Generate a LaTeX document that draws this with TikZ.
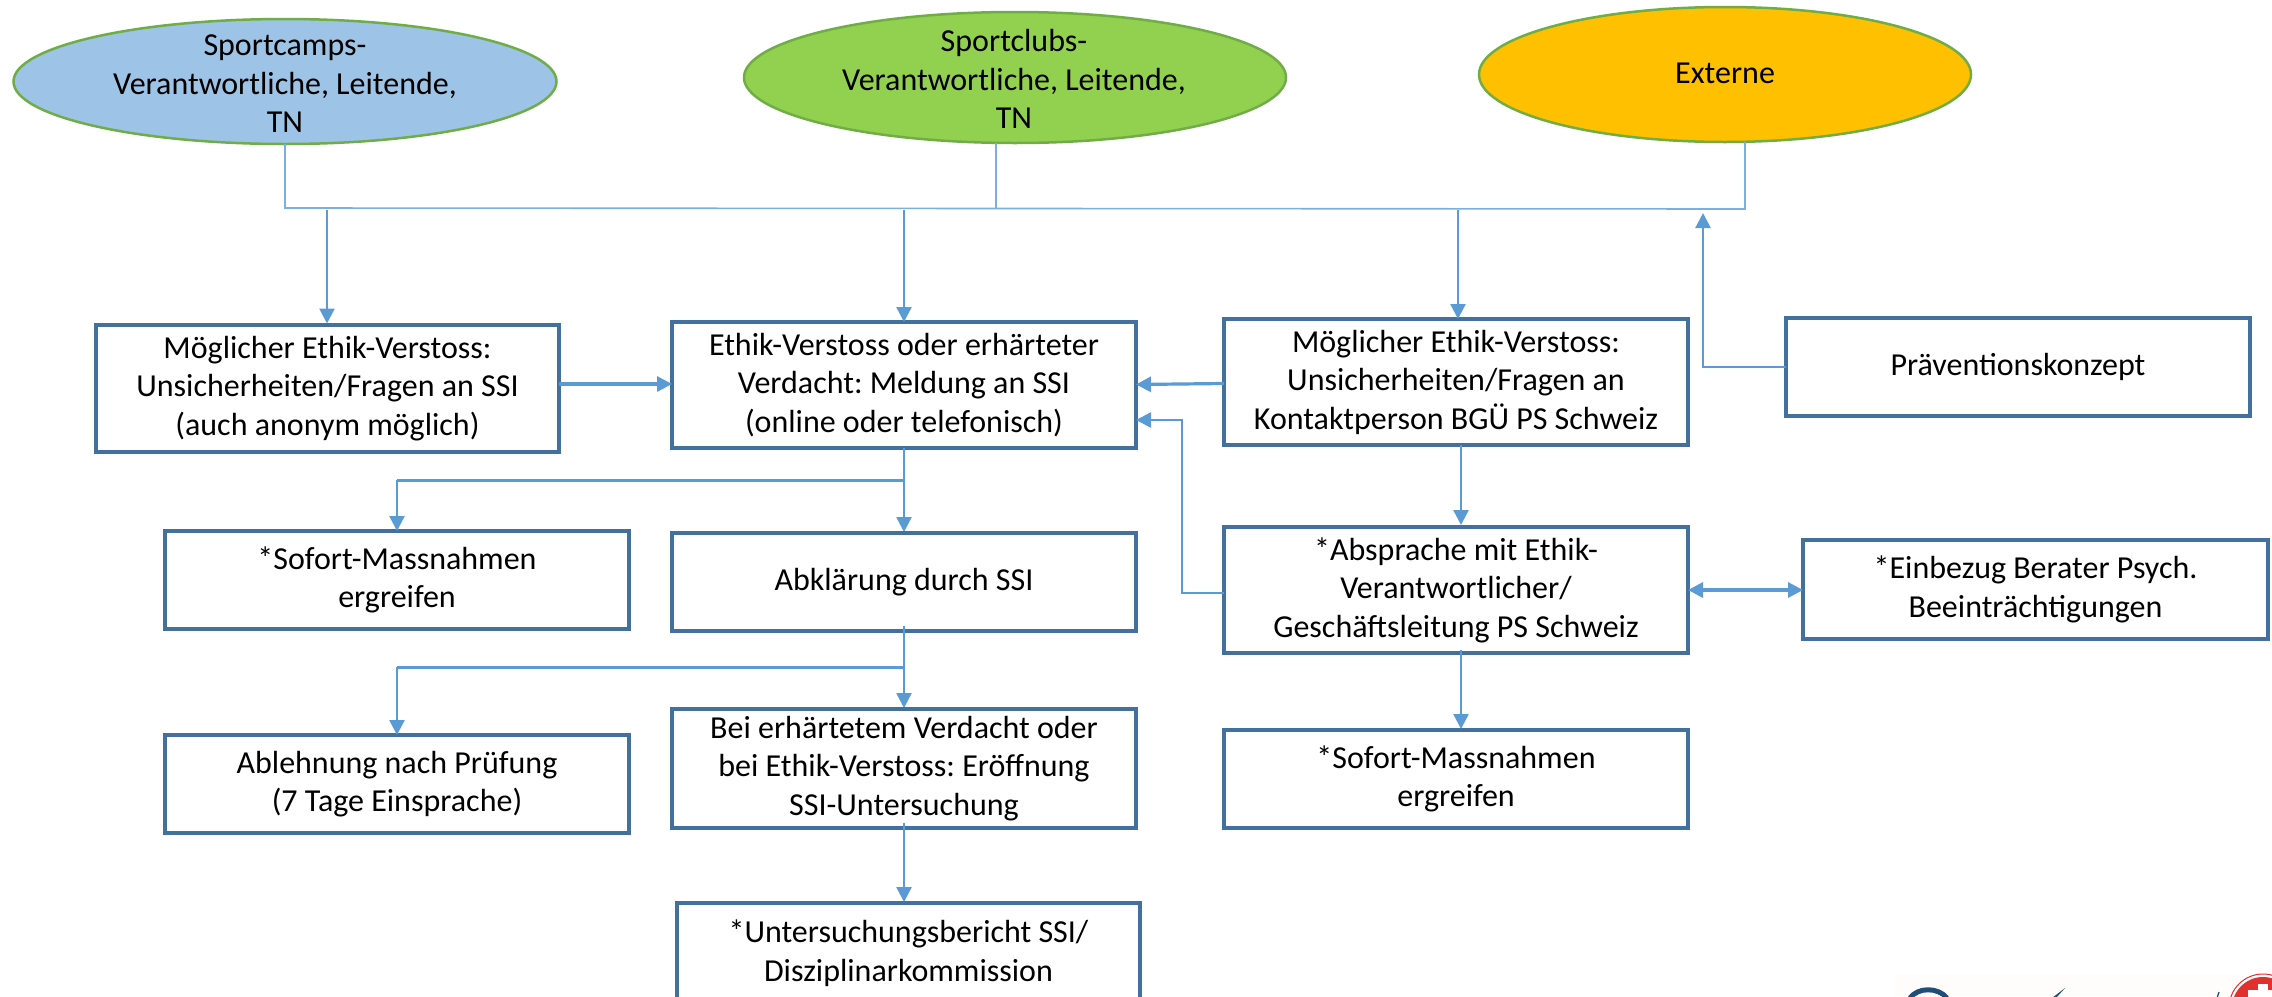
\documentclass[tikz,border=0pt]{standalone}
\usepackage{fontspec}
\setmainfont{Carlito}
\usetikzlibrary{arrows.meta,shapes.geometric,calc}
\definecolor{linkblue}{HTML}{5B9BD5}
\definecolor{boxedge}{HTML}{41719C}
\definecolor{elledge}{HTML}{70AD47}
\definecolor{campfill}{HTML}{9DC3E6}
\definecolor{clubfill}{HTML}{92D050}
\definecolor{extfill}{HTML}{FFC000}
\definecolor{logoblue}{HTML}{1F4E79}
\definecolor{logored}{HTML}{E0312E}
\definecolor{logocream}{HTML}{FFFDFB}
\frenchspacing
\tikzset{
  txt/.style={font=\fontsize{32}{38.5}\selectfont,align=center,text=black,inner sep=0pt,outer sep=0pt},
  bx/.style={txt,draw=boxedge,line width=3.2pt,fill=white,rectangle},
  ell/.style={txt,draw=elledge,line width=2.5pt,ellipse},
  thinl/.style={draw=linkblue!80!white,line width=1.6pt},
  arr/.style={draw=linkblue,line width=2.4pt,-{Triangle[length=15pt,width=15pt]}},
  arrw/.style={draw=linkblue,line width=3.2pt,-{Triangle[length=15pt,width=15pt]}},
  branch/.style={draw=linkblue,line width=3pt},
}
\newcommand{\bxnode}[7]{\node[bx,minimum width=#3 pt,minimum height=#4 pt] (#1) at (#5,#6) {#7};}
\begin{document}
\begin{tikzpicture}[x=1pt,y=-1pt]
\useasboundingbox (0,0) rectangle (2272,996);
\fill[white] (0,0) rectangle (2272,996);
% ellipses
\node[ell,fill=campfill,minimum width=543pt,minimum height=125pt] (camp) at (285,81.5) {};
\node[txt] (camptxt) at (285,84) {Sportcamps-\\Verantwortliche, Leitende,\\TN};
\node[ell,fill=clubfill,minimum width=542pt,minimum height=131pt] (club) at (1015,77.5) {};
\node[txt] (clubtxt) at (1014,79) {Sportclubs-\\Verantwortliche, Leitende,\\TN};
\node[ell,fill=extfill,minimum width=492pt,minimum height=135pt] (ext) at (1725,74.5) {};
\node[txt] (exttxt) at (1725,73) {Externe};
% boxes
\bxnode{pmain}{x}{463}{127}{327.5}{388.5}{Möglicher Ethik-Verstoss:\\Unsicherheiten/Fragen an SSI\\(auch anonym möglich)}
\bxnode{meld}{x}{464}{126}{904}{385}{Ethik-Verstoss oder erhärteter\\Verdacht: Meldung an SSI\\(online oder telefonisch)}
\bxnode{kontakt}{x}{464}{126}{1456}{382}{Möglicher Ethik-Verstoss:\\Unsicherheiten/Fragen an\\Kontaktperson BGÜ PS Schweiz}
\bxnode{prae}{x}{464}{98}{2018}{367}{Präventionskonzept}
\bxnode{soforta}{x}{464}{98}{397}{580}{*Sofort-Massnahmen\\ergreifen}
\bxnode{abkl}{x}{464}{98}{904}{582}{Abklärung durch SSI}
\bxnode{abspr}{x}{464}{126}{1456}{590}{*Absprache mit Ethik-\\Verantwortlicher/\\Geschäftsleitung PS Schweiz}
\bxnode{einb}{x}{465}{99}{2035.5}{589.5}{*Einbezug Berater Psych.\\Beeinträchtigungen}
\bxnode{ablehn}{x}{464}{98}{397}{784}{Ablehnung nach Prüfung\\(7 Tage Einsprache)}
\bxnode{bei}{x}{464}{119}{904}{768.5}{Bei erhärtetem Verdacht oder\\bei Ethik-Verstoss: Eröffnung\\SSI-Untersuchung}
\bxnode{sofortb}{x}{464}{98}{1456}{779}{*Sofort-Massnahmen\\ergreifen}
\bxnode{bericht}{x}{463}{100}{908.5}{953}{*Untersuchungsbericht SSI/\\Disziplinarkommission}
% collector line
\coordinate (busl) at (285,208);
\coordinate (busr) at (1745,209);
\draw[thinl] (285,144) -- (busl) -- (busr) -- (1745,142);
\draw[thinl] (996,143) -- (996,208);
% arrows from collector
\coordinate (d1) at (327,210);
\coordinate (d2) at (904,210);
\coordinate (d3) at (1458,210);
\draw[arr] (d1) -- (327,323.5);
\draw[arr] (d2) -- (904,322);
\draw[arr] (d3) -- (1458,319);
% horizontal
\draw[arrw] (pmain.east |- 0,384) -- (meld.west |- 0,384);
\draw[arrw] (kontakt.west |- 0,383.5) -- (meld.east |- 0,384.5);
\draw[arr,line join=miter] (abspr.west |- 0,593) -- (1182,593) -- (1182,420) -- (meld.east |- 0,420);
\draw[arr,line join=miter] (prae.west) -- (1703,367) -- (1703,213);
% below meld
\draw[arr] (meld.south) -- (904,532);
\draw[branch] (904,480) -- (397,480);
\draw[arr] (397,480) -- (soforta.north);
% below abkl
\draw[arr] (904,626) -- (904,708);
\draw[branch] (904,667) -- (397,667);
\draw[arr] (397,667) -- (ablehn.north);
\draw[arr] (904,823) -- (904,902);
% right column
\draw[arr] (1461,445) -- (1461,525);
\draw[arr] (1461,650) -- (1461,729);
\draw[draw=linkblue,line width=3.2pt,{Triangle[length=15pt,width=15pt]}-{Triangle[length=15pt,width=15pt]}] (abspr.east |- 0,590) -- (einb.west |- 0,590);
% logo fragment cut by the lower page edge
\begin{scope}
\clip (0,0) rectangle (2272,996);
\fill[logocream] (1895,975) rectangle (2272,996);
\draw[logoblue,line width=5pt] (1910,998) .. controls (1918,987) and (1938,987) .. (1947,998);
\fill[logoblue] (2065,988) -- (2052,998) -- (2056,998) -- cycle;
\draw[logoblue,line width=1.2pt] (2219,992) -- (2217,998);
\fill[logored] (2263,1008) circle (31);
\draw[logored,line width=1pt] (2263,1008) circle (34);
\fill[white] (2258,984) rectangle (2268,998);
\fill[white] (2248,990) rectangle (2272,998);
\end{scope}
\end{tikzpicture}
\end{document}
